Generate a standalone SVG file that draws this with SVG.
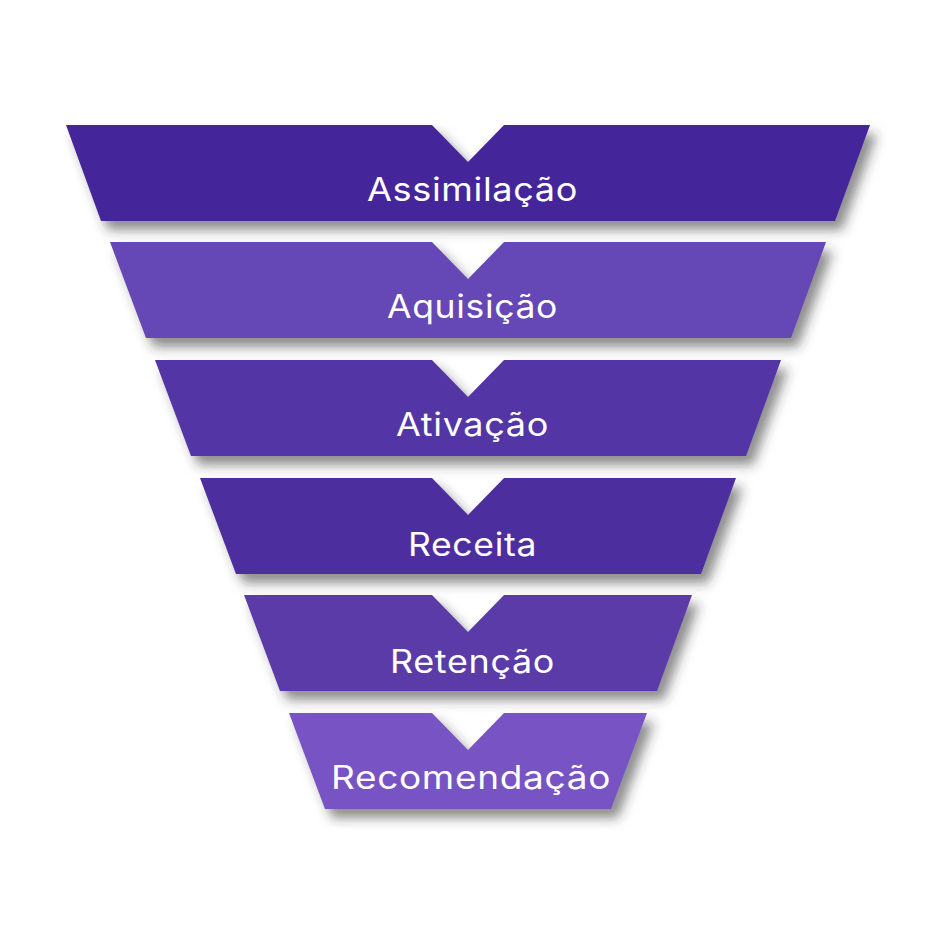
<svg xmlns="http://www.w3.org/2000/svg" width="945" height="945" viewBox="0 0 945 945">
<defs>
<filter id="sh" x="-10%" y="-20%" width="125%" height="170%">
<feDropShadow dx="7" dy="9" stdDeviation="6" flood-color="#333" flood-opacity="0.55"/>
</filter>
<style>
.band{filter:url(#sh);}
.lbl{font-family:Inter,"Noto Sans",sans-serif;font-size:32px;fill:#ffffff;text-anchor:middle;letter-spacing:0.6px;}
</style>
</defs>
<rect width="945" height="945" fill="#ffffff"/>
<g id="assimilacao">
<path class="band" fill="#45289a" d="M66,125 L432,125 L468,162 L504,125 L870,125 L835,221 L101,221 Z"/>
<text class="lbl" x="472.5" y="201" textLength="211" lengthAdjust="spacingAndGlyphs">Assimilação</text>
</g>
<g id="aquisicao">
<path class="band" fill="#6646b6" d="M110,242 L432,242 L468,279 L504,242 L826,242 L791,338 L146,338 Z"/>
<text class="lbl" x="472.5" y="318" textLength="171" lengthAdjust="spacingAndGlyphs">Aquisição</text>
</g>
<g id="ativacao">
<path class="band" fill="#5334a6" d="M155,360 L432,360 L468,397 L504,360 L781,360 L746,456 L191,456 Z"/>
<text class="lbl" x="472.5" y="436" textLength="153" lengthAdjust="spacingAndGlyphs">Ativação</text>
</g>
<g id="receita">
<path class="band" fill="#4d2f9f" d="M200,478 L432,478 L468,515 L504,478 L736,478 L701,574 L236,574 Z"/>
<text class="lbl" x="472.5" y="556" textLength="129" lengthAdjust="spacingAndGlyphs">Receita</text>
</g>
<g id="retencao">
<path class="band" fill="#5a3aa8" d="M244,595 L432,595 L468,632 L504,595 L692,595 L657,691 L280,691 Z"/>
<text class="lbl" x="472.5" y="673" textLength="165" lengthAdjust="spacingAndGlyphs">Retenção</text>
</g>
<g id="recomendacao">
<path class="band" fill="#7853c3" d="M289,713 L432,713 L468,750 L504,713 L647,713 L611,809 L325,809 Z"/>
<text class="lbl" x="471" y="789" textLength="280" lengthAdjust="spacingAndGlyphs">Recomendação</text>
</g>
<g id="connectors"></g>
</svg>
